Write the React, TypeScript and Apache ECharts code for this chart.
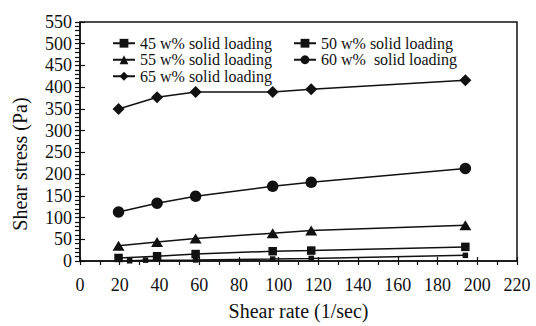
import React, { useEffect, useRef } from "react";
import * as echarts from "echarts";

const shearRate = [19.4, 38.8, 58.2, 97, 116.4, 194];
const shearRate45 = [25, 33, 58.2, 97, 116.4, 194];
const stress45 = [0.5, 2, 2.5, 4.5, 6, 13];
const stress50 = [7, 11, 16, 22.5, 24, 32.5];
const stress55 = [35, 44, 52, 64, 70, 82];
const stress60 = [113, 133, 149, 172, 181, 213];
const stress65 = [350, 377, 389, 389, 395, 416];
const seriesNames = [
  "45 w% solid loading",
  "50 w% solid loading",
  "55 w% solid loading",
  "60 w%  solid loading",
  "65 w% solid loading",
];

const FONT = "Liberation Serif";

function pairs(xs: number[], ys: number[]) {
  return xs.map((x, i) => [x, ys[i]]);
}

export default function App() {
  const ref = useRef<HTMLDivElement>(null);
  useEffect(() => {
    document.body.style.margin = "0";
    const chart = echarts.init(ref.current!, null, { renderer: "svg" });
    const lineStyle = { color: "#111", width: 1.5 };
    const mk = (name: string, data: number[][], symbol: string, size: any) => ({
      type: "line",
      name,
      data,
      symbol,
      symbolSize: size,
      xAxisIndex: 0,
      yAxisIndex: 0,
      lineStyle,
      itemStyle: { color: "#111", borderWidth: 0 },
      emphasis: { disabled: true },
    });
    const axisCommonX = {
      type: "value",
      min: 0,
      max: 220,
      interval: 20,
      position: "bottom",
    };
    const axisCommonY = {
      type: "value",
      min: 0,
      max: 550,
      interval: 50,
      position: "left",
    };
    const legendCommon = {
      orient: "vertical",
      top: 30,
      itemWidth: 22,
      itemHeight: 11,
      itemGap: 0,
      textStyle: { fontFamily: FONT, fontSize: 16, color: "#111", lineHeight: 16.5 },
      inactiveColor: "#111",
      selectedMode: false,
    };
    chart.setOption({
      animation: false,
      backgroundColor: "#fff",
      grid: {
        left: 80,
        right: 19,
        top: 22,
        bottom: 62,
        show: true,
        borderColor: "#111",
        borderWidth: 1.5,
        backgroundColor: "transparent",
      },
      legend: [
        { ...legendCommon, left: 107, data: [seriesNames[0], seriesNames[2], seriesNames[4]] },
        { ...legendCommon, left: 288, data: [seriesNames[1], seriesNames[3]] },
      ],
      graphic: [
        {
          type: "text",
          x: 20,
          y: 164,
          rotation: Math.PI / 2,
          style: {
            text: "Shear stress (Pa)",
            fontFamily: FONT,
            fontSize: 20,
            fill: "#111",
            align: "center",
            verticalAlign: "middle",
          },
        },
      ],
      xAxis: [
        {
          ...axisCommonX,
          name: "Shear rate (1/sec)",
          nameLocation: "middle",
          nameGap: 40,
          nameTextStyle: { fontFamily: FONT, fontSize: 20, color: "#111" },
          axisLine: { show: true, onZero: false, lineStyle: { color: "#111", width: 1.5 } },
          axisTick: { show: true, inside: false, length: 4, lineStyle: { color: "#111", width: 1.2 } },
          minorTick: { show: true, splitNumber: 2, length: 4, lineStyle: { color: "#111", width: 1.2 } },
          axisLabel: { fontFamily: FONT, fontSize: 18, color: "#111", margin: 15 },
          splitLine: { show: false },
        },
        {
          ...axisCommonX,
          axisLine: { show: false },
          axisTick: { show: true, inside: true, length: 4, lineStyle: { color: "#111", width: 1.2 } },
          axisLabel: { show: false },
          splitLine: { show: false },
        },
      ],
      yAxis: [
        {
          ...axisCommonY,
          axisLine: { show: true, onZero: false, lineStyle: { color: "#111", width: 1.5 } },
          axisTick: { show: true, inside: false, length: 5, lineStyle: { color: "#111", width: 1.2 } },
          minorTick: { show: true, splitNumber: 5, length: 5, lineStyle: { color: "#111", width: 1.2 } },
          axisLabel: { fontFamily: FONT, fontSize: 18, color: "#111", margin: 8 },
          splitLine: { show: false },
        },
        {
          ...axisCommonY,
          axisLine: { show: false },
          axisTick: { show: true, inside: true, length: 5, lineStyle: { color: "#111", width: 1.2 } },
          axisLabel: { show: false },
          splitLine: { show: false },
        },
      ],
      series: [
        mk(seriesNames[0], pairs(shearRate45, stress45), "rect", 5.5),
        mk(seriesNames[1], pairs(shearRate, stress50), "rect", 8.5),
        mk(seriesNames[2], pairs(shearRate, stress55), "triangle", [12, 10]),
        mk(seriesNames[3], pairs(shearRate, stress60), "circle", 11.5),
        mk(seriesNames[4], pairs(shearRate, stress65), "diamond", [12, 12]),
      ],
    });
    return () => chart.dispose();
  }, []);
  return <div ref={ref} style={{ position: "fixed", left: 0, top: 0, width: 536, height: 326 }} />;
}
